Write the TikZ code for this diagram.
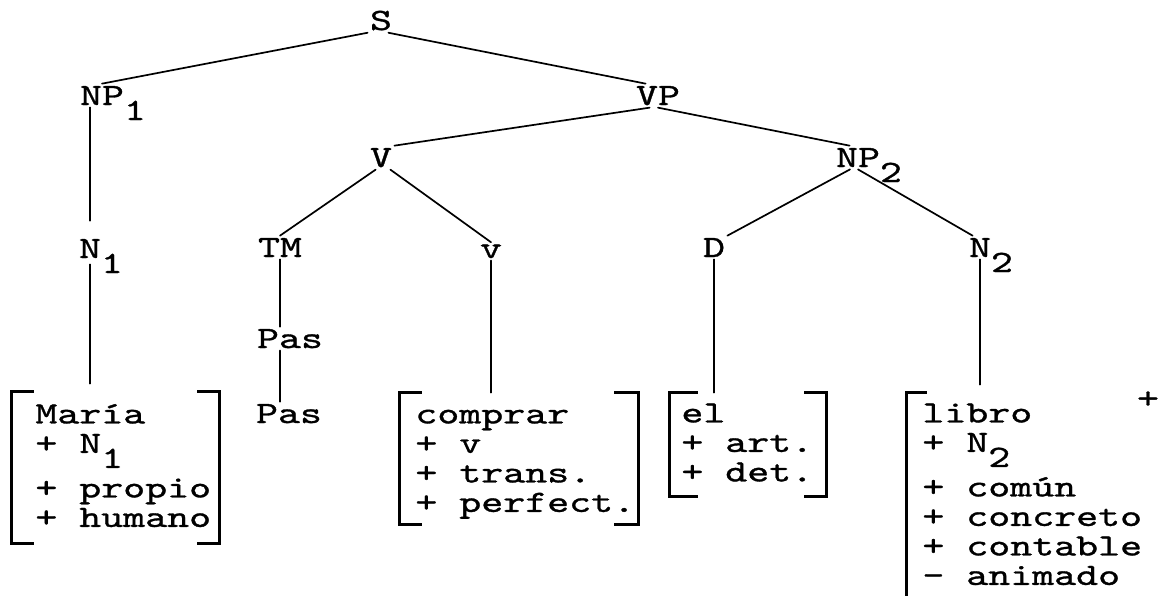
\documentclass[tikz,border=0pt]{standalone}
\usepackage{fontspec}
\usepackage{tikz}
\usetikzlibrary{fit}
\newfontfamily\twfont{lmmono10-regular}[Extension=.otf, FakeStretch=1.35, FakeBold=1]
\newcommand{\twsize}{\twfont\fontsize{15.5pt}{14.75pt}\selectfont}
\newcommand{\twstrut}{\rule{0pt}{11pt}}
\newcommand{\lowsub}[1]{\rlap{\raisebox{-7.5pt}[0pt][0pt]{#1}}}
\tikzset{
  synnode/.style = {inner sep=1pt, anchor=base, font=\twsize},
  syntext/.style = {inner sep=0pt, anchor=north west, align=left, font=\twsize},
  synbox/.style = {inner sep=0pt},
  synline/.style = {line width=0.85pt, line cap=round},
  synbracket/.style = {line width=1.35pt}
}

\begin{document}
\begin{tikzpicture}[x=0.5pt, y=-0.5pt]
\useasboundingbox (0,0) rectangle (1159,595);

% tree nodes
\node[synnode] (S) at (381,30) {S};
\node[synnode] (NP1) at (102,105) {NP\lowsub{1}};
\node[synnode] (VP) at (658,105) {VP};
\node[synnode] (V) at (381,167) {V};
\node[synnode] (NP2) at (858,167) {NP\lowsub{2}};
\node[synnode] (N1) at (90,258) {N\lowsub{1}};
\node[synnode] (TM) at (280,257) {TM};
\node[synnode] (v) at (491,258) {v};
\node[synnode] (D) at (714,257) {D};
\node[synnode] (N2) at (980,257) {N\lowsub{2}};
\node[synnode] (Pas1) at (290,348) {Pas};
\node[synnode] (Pas2) at (289,423) {Pas};
\node[synnode] (mark) at (1148,408) {+};

% feature boxes
\node[synbox, fit={(12,392) (219,543)}] (maria) {};
\node[synbox, fit={(400,393) (638,524)}] (comprar) {};
\node[synbox, fit={(670,393) (826,496)}] (el) {};
\node[synbox, fit={(907,393) (1130,640)}] (libro) {};

\node[syntext] (mariatxt) at (35,401) {\twstrut María\\+ N\lowsub{1}\\[7.5pt]+ propio\\+ humano};
\node[syntext] (comprartxt) at (415,401) {\twstrut comprar\\+ v\\+ trans.\\+ perfect.};
\node[syntext] (eltxt) at (681,400) {\twstrut el\\+ art.\\+ det.};
\node[syntext] (librotxt) at (922,400) {\twstrut libro\\+ N\lowsub{2}\\[7.5pt]+ común\\+ concreto\\+ contable\\- animado};

% brackets
\draw[synbracket] ([xshift=11pt]maria.north west) -| (maria.south west) -- ++(11pt,0);
\draw[synbracket] ([xshift=-11pt]maria.north east) -| (maria.south east) -- ++(-11pt,0);
\draw[synbracket] ([xshift=11pt]comprar.north west) -| (comprar.south west) -- ++(11pt,0);
\draw[synbracket] ([xshift=-12pt]comprar.north east) -| (comprar.south east) -- ++(-12pt,0);
\draw[synbracket] ([xshift=14pt]el.north west) -| (el.south west) -- ++(14pt,0);
\draw[synbracket] ([xshift=-11pt]el.north east) -| (el.south east) -- ++(-11pt,0);
\draw[synbracket] ([xshift=10pt]libro.north west) -| (libro.south west);

% branches
\draw[synline] (S.south west) -- (NP1.north);
\draw[synline] ([xshift=-3pt]S.south east) -- ([xshift=6pt]VP.north west);
\draw[synline] ([xshift=8pt]VP.south west) -- (V.north east);
\draw[synline] (VP.south) -- ([xshift=8pt]NP2.north west);
\draw[synline] ([xshift=4pt]V.south west) -- (TM.north);
\draw[synline] ([xshift=-2pt]V.south east) -- (v.north);
\draw[synline] ([xshift=-4pt]NP2.south) -- (D.north east);
\draw[synline] (NP2.south) -- ([xshift=3pt]N2.north west);

\draw[synline] (NP1.south -| N1.north) -- ([yshift=8pt]N1.north);
\draw[synline, shorten <=2pt, shorten >=4pt] (N1.south) -- (N1.south |- maria.north);
\draw[synline] (TM.south) -- (TM.south |- Pas1.north);
\draw[synline] (TM.south |- Pas1.south) -- (TM.south |- Pas2.north);
\draw[synline] (v.south) -- (v.south |- comprar.north);
\draw[synline] (D.south) -- (D.south |- el.north);
\draw[synline, shorten >=4pt] (N2.south) -- (N2.south |- libro.north);
\end{tikzpicture}
\end{document}
